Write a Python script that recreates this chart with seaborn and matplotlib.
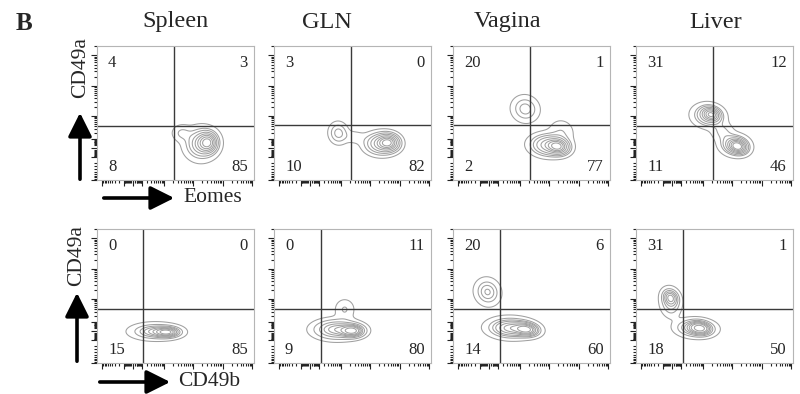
import numpy as np
import pandas as pd
import matplotlib
matplotlib.use("Agg")
import matplotlib.pyplot as plt
import seaborn as sns
from matplotlib.patches import FancyArrowPatch

# ---------------- data ----------------
tissues = ["Spleen", "GLN", "Vagina", "Liver"]
x_markers = ["Eomes", "CD49b"]
y_marker = "CD49a"
panel_letter = "B"

# quadrant percentages: upper-left, upper-right, lower-left, lower-right
quad_eomes = [[4, 3, 8, 85], [3, 0, 10, 82], [20, 1, 2, 77], [31, 12, 11, 46]]
quad_cd49b = [[0, 0, 15, 85], [0, 11, 9, 80], [20, 6, 14, 60], [31, 1, 18, 50]]

# quadrant gate thresholds (x, y) on a 0-100 display scale
gates_eomes = [(49, 40), (49, 41), (49, 41), (49, 40)]
gates_cd49b = [(29, 40), (30, 40), (30, 40), (30, 40)]

# cell populations: (x, y, sd_x, sd_y, fraction)
pops_eomes = [
    [(71, 28, 3.5, 4.5, 0.35), (66, 27, 5.5, 6.5, 0.55), (54, 35, 3.5, 3.5, 0.06)],
    [(73, 28, 3.5, 3.5, 0.35), (68, 27, 5.5, 4.5, 0.45), (41, 35, 3.0, 4.5, 0.12), (51, 32, 4.0, 3.0, 0.03)],
    [(67, 25, 3.5, 2.8, 0.30), (61, 26, 6.0, 4.0, 0.45), (69, 36, 4.5, 5.0, 0.06), (46, 53, 4.5, 5.0, 0.15)],
    [(48, 49, 3.0, 2.5, 0.15), (46, 48, 5.5, 4.5, 0.28), (65, 25, 3.0, 2.5, 0.17), (63, 26, 5.0, 4.0, 0.28),
     (55, 36, 4.0, 4.0, 0.07)],
]
pops_cd49b = [
    [(45, 23, 4.5, 2.2, 0.35), (37, 23.5, 8.0, 3.2, 0.60)],
    [(50, 24, 4.0, 2.5, 0.30), (40, 25, 8.0, 4.0, 0.55), (45, 40, 3.5, 4.5, 0.06)],
    [(47, 25, 4.0, 2.2, 0.22), (37, 26, 7.5, 3.6, 0.45), (22, 53, 4.0, 5.0, 0.16)],
    [(22, 49, 2.5, 3.0, 0.12), (22, 45, 3.3, 5.5, 0.18), (41, 26, 3.5, 2.2, 0.22), (38, 26, 6.5, 3.3, 0.38)],
]

# ---------------- style ----------------
sns.set_style("white")
plt.rcParams["font.family"] = ["Liberation Serif", "DejaVu Serif"]

FIG_W, FIG_H = 800, 394
fig = plt.figure(figsize=(FIG_W / 100, FIG_H / 100), dpi=100)

lefts = [97, 274, 453, 636]
tops = [46, 229]
AW, AH = 157, 134


def fx(px):
    return px / FIG_W


def fy(py):
    return 1 - py / FIG_H


def biex(v, z, s, c=10.0):
    return 100 * (z + s * np.sign(v) * np.log10(1 + np.abs(v) / c))


def axis_ticks(z, s):
    majors = [-100, -10, 0, 10, 100, 1000, 10000, 100000]
    minors = []
    for d in range(0, 5):
        for k in range(2, 10):
            minors += [k * 10 ** d, -k * 10 ** d]
    mj = [p for p in biex(np.array(majors, float), z, s) if 0 <= p <= 100]
    mn = [p for p in biex(np.array(minors, float), z, s) if 0 <= p <= 100]
    return mj, mn


xmaj, xmin = axis_ticks(0.23, 0.19)
ymaj, ymin = axis_ticks(0.24, 0.23)

step = 0.5
gx, gy = np.meshgrid(np.arange(0, 100 + step / 2, step), np.arange(0, 100 + step / 2, step))
gx, gy = gx.ravel(), gy.ravel()


def density_frame(pops):
    w = np.zeros_like(gx)
    for (cx, cy, sx, sy, f) in pops:
        w += f / (sx * sy) * np.exp(-0.5 * (((gx - cx) / sx) ** 2 + ((gy - cy) / sy) ** 2))
    keep = w > w.max() * 2e-3
    return pd.DataFrame({"x": gx[keep], "y": gy[keep], "w": w[keep]})


rows = [(pops_eomes, quad_eomes, gates_eomes), (pops_cd49b, quad_cd49b, gates_cd49b)]
for r, (pops_row, quad_row, gate_row) in enumerate(rows):
    for c in range(4):
        ax = fig.add_axes([fx(lefts[c]), fy(tops[r] + AH), AW / FIG_W, AH / FIG_H])
        df = density_frame(pops_row[c])
        sns.kdeplot(data=df, x="x", y="y", weights="w", ax=ax, levels=9, thresh=0.04,
                    bw_method=0.15, color="#a0a0a0", linewidths=0.75, gridsize=110,
                    clip=((0, 100), (0, 100)))
        gxv, gyv = gate_row[c]
        ax.axvline(gxv, color="#3a3a3a", lw=1.0)
        ax.axhline(gyv, color="#3a3a3a", lw=1.0)
        ax.set_xlim(0, 100)
        ax.set_ylim(0, 100)
        ax.set_xlabel("")
        ax.set_ylabel("")
        ax.set_xticks(xmaj)
        ax.set_xticks(xmin, minor=True)
        ax.set_yticks(ymaj)
        ax.set_yticks(ymin, minor=True)
        ax.tick_params(which="both", direction="out", bottom=True, left=True,
                       labelbottom=False, labelleft=False, color="#222222", width=0.8)
        ax.tick_params(which="major", length=4)
        ax.tick_params(which="minor", length=2)
        for sp in ax.spines.values():
            sp.set_color("#b5b5b5")
            sp.set_linewidth(0.8)
        ul, ur, ll, lr = quad_row[c]
        ax.text(0.07, 0.87, str(ul), transform=ax.transAxes, ha="left", va="center", fontsize=12)
        ax.text(0.96, 0.87, str(ur), transform=ax.transAxes, ha="right", va="center", fontsize=12)
        ax.text(0.07, 0.10, str(ll), transform=ax.transAxes, ha="left", va="center", fontsize=12)
        ax.text(0.96, 0.10, str(lr), transform=ax.transAxes, ha="right", va="center", fontsize=12)

# titles
title_x = [175, 327, 508, 716]
for t, xx in zip(tissues, title_x):
    fig.text(fx(xx), fy(22), t, ha="center", va="center", fontsize=17.5)

fig.text(fx(24), fy(23), panel_letter, ha="center", va="center", fontsize=18, fontweight="bold")

# axis labels with arrows
ylab_pos = [(81, 68), (77, 256)]
yarrow = [((80, 182), (80, 110)), ((77, 364), (77, 290))]
xlab_pos = [(183, 198), (178, 382)]
xarrow = [((101, 198), (177, 198)), ((97, 382), (173, 382))]
for r in range(2):
    fig.text(fx(ylab_pos[r][0]), fy(ylab_pos[r][1]), y_marker, rotation=90,
             ha="center", va="center", fontsize=15.5)
    fig.text(fx(xlab_pos[r][0]), fy(xlab_pos[r][1]), x_markers[r],
             ha="left", va="center", fontsize=15.5)
    for (a, b) in (yarrow[r], xarrow[r]):
        arr = FancyArrowPatch((fx(a[0]), fy(a[1])), (fx(b[0]), fy(b[1])),
                              transform=fig.transFigure,
                              arrowstyle="-|>,head_length=0.9,head_width=0.45",
                              mutation_scale=16, lw=2.6, color="black")
        fig.add_artist(arr)

fig.savefig("out.png", dpi=100)
